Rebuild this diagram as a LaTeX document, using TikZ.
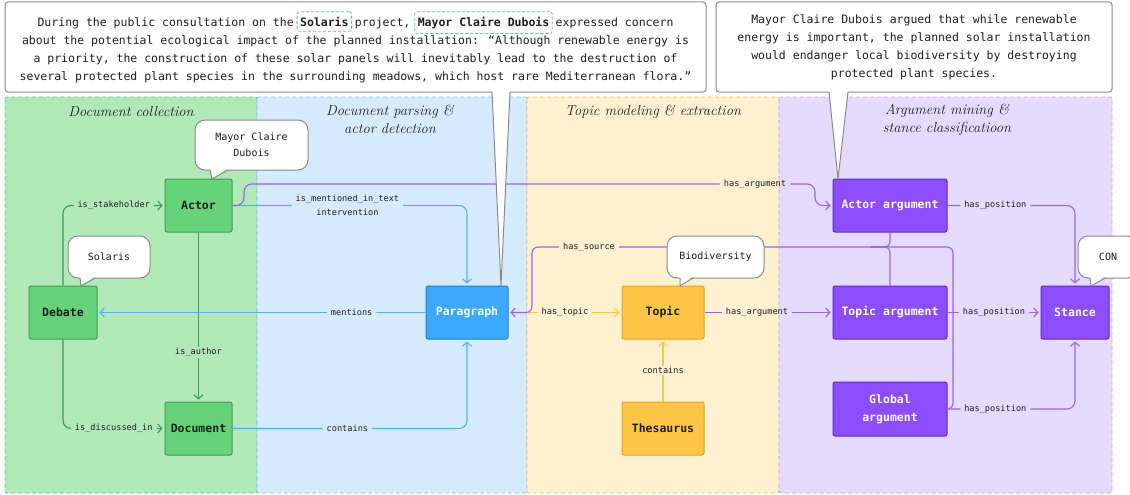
\documentclass[tikz,border=0pt]{standalone}
\usepackage{fontspec}
\newfontfamily\monof{DejaVu Sans Mono}
\usetikzlibrary{arrows.meta}
\definecolor{lgF}{HTML}{B2E9B9}
\definecolor{lgD}{HTML}{6CC47C}
\definecolor{lbF}{HTML}{D6EBFF}
\definecolor{lbD}{HTML}{7EC6FF}
\definecolor{lyF}{HTML}{FFF1D0}
\definecolor{lyD}{HTML}{F0C548}
\definecolor{lpF}{HTML}{E5DBFF}
\definecolor{lpD}{HTML}{D39CFF}
\definecolor{ngF}{HTML}{66D37A}
\definecolor{ngD}{HTML}{3E9E50}
\definecolor{nbF}{HTML}{3BA9FF}
\definecolor{nbD}{HTML}{1C80D4}
\definecolor{nyF}{HTML}{FDC745}
\definecolor{nyD}{HTML}{E3A51A}
\definecolor{npF}{HTML}{8B4DFF}
\definecolor{npD}{HTML}{5A2EBE}
\definecolor{eG}{HTML}{3E9E50}
\definecolor{eB}{HTML}{4DB2FF}
\definecolor{eY}{HTML}{FFC53D}
\definecolor{eP}{HTML}{9A63FF}
\definecolor{bub}{HTML}{8A8A8A}
\definecolor{hlg}{HTML}{5CC96E}
\definecolor{txt}{HTML}{1E1E1E}

\newcommand\hlbox[2]{\tikz[baseline=(#1.base)]\node[minimum width=0pt,minimum height=0pt,fill=none,draw=hlg,dash pattern=on 3pt off 2pt,rounded corners=2.5pt,line width=0.8pt,inner xsep=3pt,inner ysep=5pt,align=left,font=\monof\bfseries\fontsize{11.5}{14}\selectfont,text=txt] (#1) {#2};}

\newcommand\calltail[5]{%
  \fill[white] (#1,#3-1.5) -- (#4,#5) -- (#2,#3-1.5) -- cycle;
  \draw[bub,line width=1pt,line join=round] (#1,#3) -- (#4,#5) -- (#2,#3);}

\begin{document}
\begin{tikzpicture}[x=1pt,y=-1pt,
  lane/.style={dash pattern=on 4pt off 3pt,line width=0.8pt,rounded corners=2pt},
  ttl/.style={font=\fontsize{14.5}{18}\selectfont\itshape,align=center,text=txt},
  nbox/.style={rounded corners=2pt,line width=1pt,minimum height=53,inner sep=0pt,align=center,font=\monof\bfseries\fontsize{11.5}{18}\selectfont},
  gbox/.style={nbox,fill=ngF,draw=ngD,text=txt},
  bbox/.style={nbox,fill=nbF,draw=nbD,text=white},
  ybox/.style={nbox,fill=nyF,draw=nyD,text=txt},
  pbox/.style={nbox,fill=npF,draw=npD,text=white},
  ed/.style={line width=1.1pt,rounded corners=8pt},
  arr/.style={-{Straight Barb[length=4pt,width=9pt]},shorten >=2pt},
  lbl/.style={font=\monof\fontsize{8.6}{14}\selectfont,text=txt,inner xsep=4pt,inner ysep=1pt,align=center},
  bubble/.style={draw=bub,fill=white,line width=1pt,rounded corners=10pt,align=center,font=\monof\fontsize{10}{16}\selectfont,text=txt,inner sep=0pt},
  bigbox/.style={draw=bub,fill=white,line width=1pt,rounded corners=3pt,align=center,font=\monof\fontsize{11.5}{18}\selectfont,text=txt,inner sep=0pt}
]
\useasboundingbox (0,0) rectangle (1130,495);
\clip (0,0) rectangle (1130,495);
\fill[white] (0,0) rectangle (1130,495);

% lanes
\draw[lane,fill=lgF,draw=lgD] (5,97) rectangle (257,493);
\draw[lane,fill=lbF,draw=lbD] (257,97) rectangle (527,493);
\draw[lane,fill=lyF,draw=lyD] (527,97) rectangle (779,493);
\draw[lane,fill=lpF,draw=lpD] (779,97) rectangle (1112,493);

\node[ttl] (tG) at (131,112) {Document collection};
\node[ttl] (tB) at (390,119) {Document parsing \&\\actor detection};
\node[ttl] (tY) at (653,112) {Topic modeling \& extraction};
\node[ttl] (tP) at (947,120) {Argument mining \&\\stance classificatioon};

% nodes
\node[gbox,minimum width=67] (actor) at (198.5,205.5) {Actor};
\node[gbox,minimum width=68] (debate) at (63,312.5) {Debate};
\node[gbox,minimum width=67] (document) at (198.5,428.5) {Document};
\node[bbox,minimum width=82] (paragraph) at (467,312.5) {Paragraph};
\node[ybox,minimum width=82] (topic) at (663,312.5) {Topic};
\node[ybox,minimum width=82] (thesaurus) at (663,428.5) {Thesaurus};
\node[pbox,minimum width=114] (actarg) at (890,205.5) {Actor argument};
\node[pbox,minimum width=114] (toparg) at (890,312.5) {Topic argument};
\node[pbox,minimum width=114,minimum height=54] (globarg) at (890,409) {Global\\argument};
\node[pbox,minimum width=68] (stance) at (1075,312.5) {Stance};

% green edges
\draw[ed,eG,arr] (debate.north) |- (actor.west) node[lbl,fill=lgF,pos=0.75] (l1) {is\_stakeholder};
\draw[ed,eG,arr] (debate.south) |- (document.west) node[lbl,fill=lgF,pos=0.75] (l2) {is\_discussed\_in};
\draw[ed,eG,arr] (actor.south) -- (document.north) node[lbl,fill=lgF,pos=0.71] (l3) {is\_author};

% blue edges
\draw[ed,eB,arr] (actor.east) -| (paragraph.north) node[lbl,fill=lbF,pos=0.245] (l5) {is\_mentioned\_in\_text\\intervention};
\draw[ed,eB,arr] (paragraph.west) -- (debate.east) node[lbl,fill=lbF,pos=0.225] (l6) {mentions};
\draw[ed,eB,arr] (document.east) -| (paragraph.south) node[lbl,fill=lbF,pos=0.245] (l7) {contains};

% purple has_argument (actor)
\node[lbl] (l4) at (755,184) {has\_argument};
\draw[ed,eP] (actor.east) -- (244,205.5) -- (244,184) -- (l4.west);
\draw[ed,eP,arr] (l4.east) -- (815,184) -- (815,205.5) -- (actarg.west);

% yellow edges
\draw[ed,eY,arr] (paragraph.east) -- (topic.west) node[lbl,fill=lyF,midway] (l8) {has\_topic};
\draw[ed,eY,arr] (thesaurus.north) -- (topic.south) node[lbl,fill=lyF,midway] (l9) {contains};

% purple has_source
\coordinate (srcJ) at (870,247);
\draw[ed,eP,rounded corners=5pt] (actarg.south) |- (srcJ);
\draw[ed,eP,rounded corners=5pt] (toparg.north) |- (srcJ);
\draw[ed,eP,rounded corners=6pt,arr] (globarg.east) -- (953,409) -- (953,247) -- (532,247) -- (532,312.5) -- (paragraph.east);
\node[lbl,fill=lyF] (l10) at (589,247) {has\_source};

% purple has_argument (topic)
\node[lbl] (l11) at (757,312.5) {has\_argument};
\draw[ed,eP] (topic.east) -- (l11.west);
\draw[ed,eP,arr] (l11.east) -- (toparg.west);

% has_position
\draw[ed,eP,arr] (actarg.east) -| (stance.north) node[lbl,fill=lpF,pos=0.1875] (l12) {has\_position};
\draw[ed,eP,arr] (toparg.east) -- (stance.west) node[lbl,fill=lpF,midway] (l13) {has\_position};
\draw[ed,eP,arr] (globarg.east) -| (stance.south) node[lbl,fill=lpF,pos=0.1875] (l14) {has\_position};

% small callouts
\node[bubble,minimum width=113,minimum height=50] (bMayor) at (251.5,145) {Mayor Claire\\Dubois};
\calltail{210}{228}{170}{212}{179}
\node[bubble,minimum width=82,minimum height=42] (bSolaris) at (109,257) {Solaris};
\calltail{80}{95}{278}{81}{286}
\node[bubble,minimum width=97,minimum height=42] (bBio) at (715.5,257) {Biodiversity};
\calltail{680}{693}{278}{680}{286}
\node[bubble,minimum width=60,minimum height=42] (bCon) at (1108,257) {CON};
\calltail{1090}{1105}{278}{1091}{286}

% top callouts
\node[bigbox,minimum width=701,minimum height=90] (quote) at (355.5,47) {During the public consultation on the\hspace{3pt}\hlbox{hlA}{Solaris}\hspace{3pt}project,\hspace{4pt}\hlbox{hlB}{Mayor Claire Dubois}\hspace{3pt}expressed concern\\about the potential ecological impact of the planned installation: “Although renewable energy is\\a priority, the construction of these solar panels will inevitably lead to the destruction of\\several protected plant species in the surrounding meadows, which host rare Mediterranean flora.”};
\calltail{492}{510}{92}{501}{286}
\node[bigbox,minimum width=396,minimum height=90] (summary) at (914,47) {Mayor Claire Dubois argued that while renewable\\energy is important, the planned solar installation\\would endanger local biodiversity by destroying\\protected plant species.};
\calltail{829}{848}{92}{838}{179}
\end{tikzpicture}
\end{document}
